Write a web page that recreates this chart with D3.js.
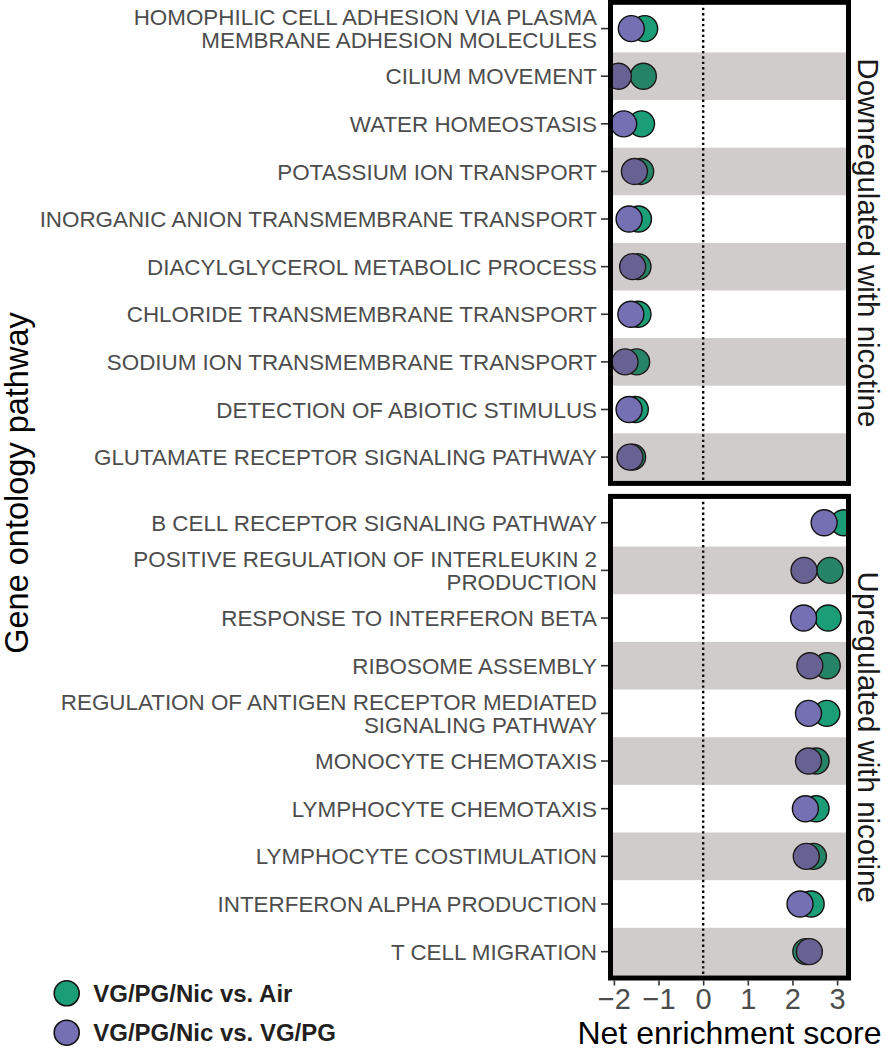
<html>
<head>
<script src="https://d3js.org/d3.v7.min.js"></script>
<style>
body { margin: 0; background: #fff; }
svg { font-family: "Liberation Sans", Arial, sans-serif; }
</style>
</head>
<body>
<div id="chart"></div>
<script>
// GO terms, top to bottom in each panel
var downTerms = ["HOMOPHILIC CELL ADHESION VIA PLASMA\nMEMBRANE ADHESION MOLECULES", "CILIUM MOVEMENT", "WATER HOMEOSTASIS",
  "POTASSIUM ION TRANSPORT", "INORGANIC ANION TRANSMEMBRANE TRANSPORT", "DIACYLGLYCEROL METABOLIC PROCESS",
  "CHLORIDE TRANSMEMBRANE TRANSPORT", "SODIUM ION TRANSMEMBRANE TRANSPORT", "DETECTION OF ABIOTIC STIMULUS",
  "GLUTAMATE RECEPTOR SIGNALING PATHWAY"];
var downAir  = [-1.31, -1.34, -1.38, -1.40, -1.45, -1.46, -1.46, -1.49, -1.52, -1.58];
var downVgpg = [-1.61, -1.90, -1.78, -1.54, -1.66, -1.58, -1.62, -1.75, -1.66, -1.64];

var upTerms = ["B CELL RECEPTOR SIGNALING PATHWAY", "POSITIVE REGULATION OF INTERLEUKIN 2\nPRODUCTION",
  "RESPONSE TO INTERFERON BETA", "RIBOSOME ASSEMBLY", "REGULATION OF ANTIGEN RECEPTOR MEDIATED\nSIGNALING PATHWAY",
  "MONOCYTE CHEMOTAXIS", "LYMPHOCYTE CHEMOTAXIS", "LYMPHOCYTE COSTIMULATION", "INTERFERON ALPHA PRODUCTION",
  "T CELL MIGRATION"];
var upAir  = [3.15, 2.84, 2.80, 2.78, 2.77, 2.53, 2.53, 2.47, 2.42, 2.30];
var upVgpg = [2.71, 2.26, 2.25, 2.39, 2.36, 2.36, 2.29, 2.31, 2.17, 2.38];

var xTicks = [-2, -1, 0, 1, 2, 3];
var seriesNames = ["VG/PG/Nic vs. Air", "VG/PG/Nic vs. VG/PG"];
var seriesColors = ["#1b9e77", "#7570b3"];
var panelNames = ["Downregulated with nicotine", "Upregulated with nicotine"];

var width = 886, height = 1055;
var left = 610.5, right = 848.5, border = 5;
var panels = [
  {top: 2.3, bottom: 483.4, terms: downTerms, series: [downAir, downVgpg], name: panelNames[0]},
  {top: 496.4, bottom: 978, terms: upTerms, series: [upAir, upVgpg], name: panelNames[1]}
];

var x = d3.scaleLinear().domain([-2.02, 3.2]).range([left + border / 2, right - border / 2]);

var svg = d3.select("#chart").append("svg")
  .attr("width", width)
  .attr("height", height);

panels.forEach(function(p, pi) {
  var y = d3.scaleBand().domain(d3.range(p.terms.length))
    .range([p.top + border / 2, p.bottom - border / 2]);
  var g = svg.append("g");

  g.append("clipPath").attr("id", "clip" + pi)
    .append("rect")
    .attr("x", left).attr("y", p.top)
    .attr("width", right - left).attr("height", p.bottom - p.top);

  var inner = g.append("g").attr("clip-path", "url(#clip" + pi + ")");
  inner.append("rect")
    .attr("x", left).attr("y", p.top)
    .attr("width", right - left).attr("height", p.bottom - p.top)
    .attr("fill", "#fff");

  // zero line
  inner.append("line")
    .attr("x1", x(0)).attr("x2", x(0))
    .attr("y1", p.top).attr("y2", p.bottom)
    .attr("stroke", "#000").attr("stroke-width", 2.4)
    .attr("stroke-dasharray", "2.4,3");

  // points: green first, purple on top
  p.series.forEach(function(vals, si) {
    inner.selectAll(".pt" + si)
      .data(vals).enter()
      .append("circle")
      .attr("cx", d => x(d))
      .attr("cy", (d, i) => y(i) + y.bandwidth() / 2)
      .attr("r", 13)
      .attr("fill", seriesColors[si])
      .attr("stroke", "#111")
      .attr("stroke-width", 1.4);
  });

  // shaded stripes laid over the points
  inner.selectAll(".band")
    .data(d3.range(1, p.terms.length, 2)).enter()
    .append("rect")
    .attr("x", left).attr("width", right - left)
    .attr("y", d => y(d)).attr("height", y.bandwidth())
    .attr("fill", "rgb(67,51,51)")
    .attr("fill-opacity", 0.25);

  g.append("rect")
    .attr("x", left).attr("y", p.top)
    .attr("width", right - left).attr("height", p.bottom - p.top)
    .attr("fill", "none").attr("stroke", "#000").attr("stroke-width", border);

  // category labels and ticks
  var lab = g.selectAll(".lab")
    .data(p.terms).enter()
    .append("g")
    .attr("transform", (d, i) => "translate(0," + (y(i) + y.bandwidth() / 2) + ")");
  lab.append("line")
    .attr("x1", 601).attr("x2", left - border / 2)
    .attr("stroke", "#333").attr("stroke-width", 1.6);
  lab.append("text")
    .attr("x", 597)
    .attr("text-anchor", "end")
    .style("font-size", "22.4px")
    .attr("fill", "#4d4d4d")
    .each(function(d) {
      var lines = d.split("\n");
      var t = d3.select(this);
      lines.forEach(function(s, k) {
        t.append("tspan")
          .attr("x", 597)
          .attr("y", (k - (lines.length - 1) / 2) * 23)
          .attr("dy", "0.36em")
          .text(s);
      });
    });

  // strip label
  svg.append("text")
    .attr("transform", "translate(858," + ((p.top + p.bottom) / 2) + ") rotate(90)")
    .attr("text-anchor", "middle")
    .style("font-size", "29.5px")
    .attr("fill", "#1a1a1a")
    .text(p.name);
});

// x axis
var xAxis = d3.axisBottom(x)
  .tickValues(xTicks)
  .tickSize(5)
  .tickPadding(3)
  .tickFormat(d => d < 0 ? "\u2212" + Math.abs(d) : d);
var ax = svg.append("g")
  .attr("transform", "translate(0," + (980.5) + ")")
  .call(xAxis);
ax.select(".domain").remove();
ax.selectAll(".tick line").attr("stroke", "#333").attr("stroke-width", 1.6);
ax.selectAll(".tick text")
  .attr("fill", "#4d4d4d")
  .style("font-size", "29px")
  .style("font-family", "'Liberation Sans', Arial, sans-serif");

svg.append("text")
  .attr("x", (left + right) / 2)
  .attr("y", 1044)
  .attr("text-anchor", "middle")
  .style("font-size", "32px")
  .attr("fill", "#000")
  .text("Net enrichment score");

svg.append("text")
  .attr("transform", "translate(28,483) rotate(-90)")
  .attr("text-anchor", "middle")
  .style("font-size", "32.5px")
  .attr("fill", "#000")
  .text("Gene ontology pathway");

// legend
var legend = svg.selectAll(".legend")
  .data(seriesNames).enter()
  .append("g")
  .attr("transform", (d, i) => "translate(66.7," + (993.3 + i * 39.4) + ")");
legend.append("circle")
  .attr("r", 12.5)
  .attr("fill", (d, i) => seriesColors[i])
  .attr("stroke", "#111")
  .attr("stroke-width", 1.6);
legend.append("text")
  .attr("x", 26.5)
  .attr("dy", "0.36em")
  .style("font-size", "24px")
  .style("font-weight", "bold")
  .attr("fill", "#231f20")
  .text(d => d);
</script>
</body>
</html>
